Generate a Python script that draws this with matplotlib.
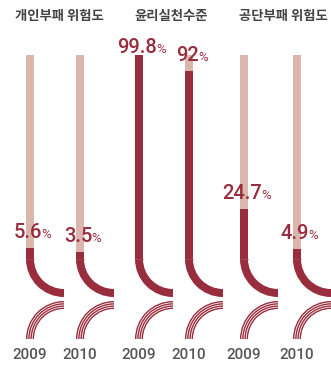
import matplotlib
matplotlib.use("Agg")
import matplotlib.pyplot as plt
from matplotlib.patches import Rectangle, Wedge

# data
groups = ["개인부패 위험도", "윤리실천수준", "공단부패 위험도"]
years = ["2009", "2010"]
values = [5.6, 3.5, 99.8, 92, 24.7, 4.9]
labels = ["5.6", "3.5", "99.8", "92", "24.7", "4.9"]

DARK = "#982d3d"
PINK = "#dab6ad"

W, H = 331, 367
fig = plt.figure(figsize=(W / 100, H / 100), dpi=100)
ax = fig.add_axes([0, 0, 1, 1])
ax.set_xlim(0, W)
ax.set_ylim(H, 0)
ax.axis("off")

# layout (pixels)
centers = [30, 80, 139, 189, 244, 297]
title_x = [59, 171, 283]
bw = 8
top, base = 55, 259
span = base - top
R = 38
arc_y = 339

for i, (cx, v) in enumerate(zip(centers, values)):
    x0 = cx - bw / 2
    ax.add_patch(Rectangle((x0, top), bw, span, color=PINK, lw=0))
    ftop = base - v / 100 * span
    ax.add_patch(Rectangle((x0, ftop), bw, base - ftop, color=DARK, lw=0))
    # curve at bottom of bar
    ax.add_patch(Wedge((x0 + R, base), R, 90, 180, width=bw, color=DARK, lw=0))
    ax.plot([x0, x0 + bw], [base, base], color="#b04a58", lw=0.5)
    # decorative striped arc
    ax.add_patch(Wedge((x0 + R, arc_y), R, 180, 270, width=bw, color=DARK, lw=0))
    for r in (32.2, 34.4, 36.6):
        ax.add_patch(Wedge((x0 + R, arc_y), r, 180, 270, width=0.8, color="white", lw=0))
    # year
    ax.text(cx, 355, years[i % 2], ha="center", va="center", fontsize=11,
            family="Roboto", weight="medium", color="#555555")

for t, x in zip(groups, title_x):
    ax.text(x, 16, t, ha="center", va="center", fontsize=9.6,
            family=["Noto Sans CJK KR", "DejaVu Sans"], weight="bold",
            color="#444444")

# value labels: number + small percent sign, centered a bit right of bar
fig.canvas.draw()
rend = fig.canvas.get_renderer()
for cx, v, lab in zip(centers, values, labels):
    ftop = base - v / 100 * span
    y = max(ftop - 10, 53)
    tn = ax.text(0, y, lab, ha="left", va="baseline", fontsize=14.5,
                 family="Roboto", weight="medium", color=DARK)
    tp = ax.text(0, y, "%", ha="left", va="baseline", fontsize=9.5,
                 family="Roboto", color=DARK)
    wn = tn.get_window_extent(rend).width
    wp = tp.get_window_extent(rend).width
    xs = cx + 3 - (wn + wp) / 2
    tn.set_x(xs)
    tp.set_x(xs + wn - 0.5)

fig.savefig("out.png", dpi=100)
